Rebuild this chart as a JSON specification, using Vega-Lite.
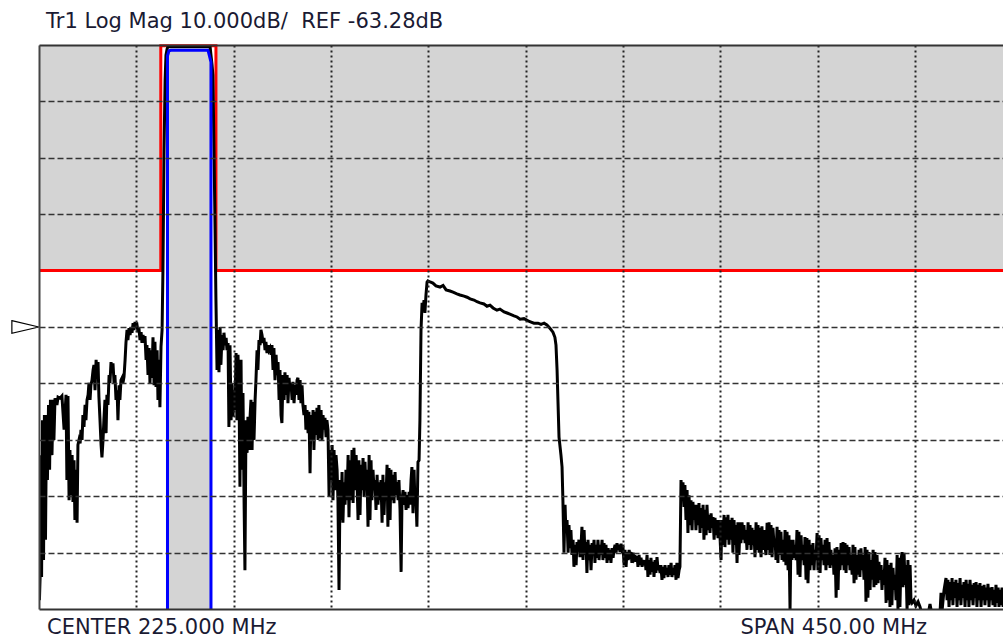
{
"$schema": "https://vega.github.io/schema/vega-lite/v6.json",
"width": 964, "height": 564,
"autosize": {"type": "none"},
"padding": {"left": 39, "top": 45, "right": 0, "bottom": 30},
"background": "white",
"config": {"view": {"stroke": null}},
"title": {"text": "Tr1 Log Mag 10.000dB/\u00a0 REF -63.28dB", "anchor": "start", "frame": "group", "font": "DejaVu Sans", "fontSize": 21, "fontWeight": "normal", "color": "#1a1a33", "dx": 7, "dy": 22, "offset": 13, "baseline": "alphabetic"},
"datasets": {
"limit": [{"MHz":0,"dB":-53.28},{"MHz":56.3,"dB":-53.28},{"MHz":56.3,"dB":-13.4},{"MHz":81.8,"dB":-13.4},{"MHz":81.8,"dB":-53.28},{"MHz":450,"dB":-53.28}],
"mask": [{"MHz":59.4,"dB":-114.3},{"MHz":59.4,"dB":-15.2},{"MHz":60.1,"dB":-14.3},{"MHz":61.0,"dB":-14.2},{"MHz":78.1,"dB":-14.2},{"MHz":78.8,"dB":-15.2},{"MHz":79.5,"dB":-16.3},{"MHz":79.5,"dB":-114.3}],
"trace": [
{"MHz":0.2,"dB":-111.7},{"MHz":0.5,"dB":-107.8},{"MHz":0.7,"dB":-86.0},{"MHz":1.2,"dB":-107.6},{"MHz":1.6,"dB":-79.8},{"MHz":2.1,"dB":-104.6},{"MHz":2.5,"dB":-78.9},{"MHz":3.0,"dB":-101.0},{"MHz":3.5,"dB":-78.9},{"MHz":3.9,"dB":-90.4},{"MHz":4.4,"dB":-77.1},{"MHz":4.9,"dB":-88.6},{"MHz":5.3,"dB":-76.2},{"MHz":6.0,"dB":-86.0},{"MHz":6.5,"dB":-76.2},{"MHz":6.9,"dB":-83.3},{"MHz":7.4,"dB":-75.9},{"MHz":8.3,"dB":-77.1},{"MHz":8.8,"dB":-75.7},{"MHz":9.7,"dB":-75.9},{"MHz":10.6,"dB":-75.5},{"MHz":11.6,"dB":-81.5},{"MHz":12.5,"dB":-75.3},{"MHz":12.9,"dB":-90.4},{"MHz":13.4,"dB":-75.5},{"MHz":13.9,"dB":-94.0},{"MHz":14.3,"dB":-85.1},{"MHz":14.8,"dB":-93.1},{"MHz":15.3,"dB":-86.0},{"MHz":15.7,"dB":-94.3},{"MHz":16.2,"dB":-86.9},{"MHz":16.6,"dB":-97.5},{"MHz":17.1,"dB":-88.6},{"MHz":17.6,"dB":-98.0},{"MHz":18.0,"dB":-84.2},{"MHz":18.5,"dB":-83.3},{"MHz":19.0,"dB":-83.9},{"MHz":19.4,"dB":-81.5},{"MHz":19.9,"dB":-83.3},{"MHz":20.3,"dB":-78.9},{"MHz":20.8,"dB":-81.0},{"MHz":21.3,"dB":-77.1},{"MHz":21.7,"dB":-79.8},{"MHz":22.2,"dB":-76.2},{"MHz":22.7,"dB":-75.3},{"MHz":23.1,"dB":-73.2},{"MHz":23.6,"dB":-76.2},{"MHz":24.0,"dB":-73.6},{"MHz":24.5,"dB":-72.7},{"MHz":25.0,"dB":-70.9},{"MHz":25.4,"dB":-70.0},{"MHz":25.9,"dB":-74.5},{"MHz":26.4,"dB":-69.1},{"MHz":26.8,"dB":-71.8},{"MHz":27.3,"dB":-69.5},{"MHz":27.7,"dB":-75.7},{"MHz":28.2,"dB":-79.8},{"MHz":28.7,"dB":-84.2},{"MHz":29.1,"dB":-86.4},{"MHz":29.6,"dB":-83.3},{"MHz":30.0,"dB":-79.8},{"MHz":30.5,"dB":-76.2},{"MHz":31.0,"dB":-82.1},{"MHz":31.4,"dB":-75.3},{"MHz":31.9,"dB":-77.1},{"MHz":32.4,"dB":-71.8},{"MHz":32.8,"dB":-73.2},{"MHz":33.3,"dB":-69.5},{"MHz":33.7,"dB":-70.9},{"MHz":34.2,"dB":-69.7},{"MHz":34.7,"dB":-73.2},{"MHz":35.1,"dB":-71.8},{"MHz":35.6,"dB":-76.2},{"MHz":36.1,"dB":-74.5},{"MHz":36.5,"dB":-79.8},{"MHz":37.0,"dB":-73.6},{"MHz":37.4,"dB":-76.2},{"MHz":37.9,"dB":-72.7},{"MHz":38.4,"dB":-72.3},{"MHz":38.8,"dB":-73.2},{"MHz":39.3,"dB":-72.1},{"MHz":39.8,"dB":-69.1},{"MHz":40.2,"dB":-66.1},{"MHz":40.7,"dB":-63.8},{"MHz":41.1,"dB":-65.6},{"MHz":41.6,"dB":-63.5},{"MHz":42.1,"dB":-64.7},{"MHz":42.5,"dB":-63.3},{"MHz":43.0,"dB":-64.3},{"MHz":43.5,"dB":-62.6},{"MHz":43.9,"dB":-63.8},{"MHz":44.4,"dB":-62.4},{"MHz":44.8,"dB":-63.1},{"MHz":45.3,"dB":-62.9},{"MHz":45.8,"dB":-64.2},{"MHz":46.2,"dB":-63.5},{"MHz":46.7,"dB":-65.6},{"MHz":47.2,"dB":-64.2},{"MHz":47.6,"dB":-66.1},{"MHz":48.1,"dB":-64.7},{"MHz":48.5,"dB":-66.1},{"MHz":49.0,"dB":-64.9},{"MHz":49.5,"dB":-69.1},{"MHz":49.9,"dB":-66.5},{"MHz":50.4,"dB":-71.8},{"MHz":50.9,"dB":-67.0},{"MHz":51.3,"dB":-73.2},{"MHz":51.8,"dB":-67.4},{"MHz":52.2,"dB":-72.3},{"MHz":52.7,"dB":-65.1},{"MHz":53.2,"dB":-73.6},{"MHz":53.6,"dB":-65.9},{"MHz":54.1,"dB":-73.9},{"MHz":54.6,"dB":-67.4},{"MHz":55.0,"dB":-76.2},{"MHz":55.5,"dB":-69.1},{"MHz":55.9,"dB":-77.5},{"MHz":56.4,"dB":-66.8},{"MHz":56.9,"dB":-63.8},{"MHz":57.3,"dB":-53.2},{"MHz":57.8,"dB":-31.9},{"MHz":58.3,"dB":-19.5},{"MHz":58.7,"dB":-15.1},{"MHz":59.2,"dB":-14.0},{"MHz":59.6,"dB":-13.6},{"MHz":79.1,"dB":-13.6},{"MHz":79.5,"dB":-15.1},{"MHz":80.0,"dB":-16.8},{"MHz":80.4,"dB":-18.6},{"MHz":80.9,"dB":-31.9},{"MHz":81.4,"dB":-46.1},{"MHz":81.8,"dB":-58.5},
{"MHz":82.3,"dB":-70.9},{"MHz":82.8,"dB":-63.8},{"MHz":83.2,"dB":-71.3},{"MHz":83.7,"dB":-63.3},{"MHz":84.1,"dB":-70.0},{"MHz":84.6,"dB":-64.7},{"MHz":85.1,"dB":-67.4},{"MHz":85.5,"dB":-64.3},{"MHz":86.0,"dB":-66.5},{"MHz":86.5,"dB":-65.2},{"MHz":86.9,"dB":-67.4},{"MHz":87.4,"dB":-66.1},{"MHz":87.8,"dB":-81.0},{"MHz":88.3,"dB":-66.5},{"MHz":88.8,"dB":-79.8},{"MHz":89.2,"dB":-73.2},{"MHz":89.7,"dB":-79.2},{"MHz":90.1,"dB":-74.5},{"MHz":90.6,"dB":-78.0},{"MHz":91.1,"dB":-67.9},{"MHz":91.5,"dB":-79.8},{"MHz":92.0,"dB":-68.2},{"MHz":92.5,"dB":-76.2},{"MHz":92.9,"dB":-91.6},{"MHz":93.4,"dB":-69.1},{"MHz":93.8,"dB":-88.6},{"MHz":94.3,"dB":-75.0},{"MHz":94.8,"dB":-94.0},{"MHz":95.2,"dB":-106.4},{"MHz":95.7,"dB":-79.8},{"MHz":96.2,"dB":-85.6},{"MHz":96.6,"dB":-79.2},{"MHz":97.1,"dB":-85.1},{"MHz":97.5,"dB":-79.8},{"MHz":98.0,"dB":-76.2},{"MHz":98.5,"dB":-85.1},{"MHz":98.9,"dB":-76.6},{"MHz":99.4,"dB":-83.3},{"MHz":99.9,"dB":-76.2},{"MHz":100.3,"dB":-72.7},{"MHz":100.8,"dB":-67.4},{"MHz":101.2,"dB":-70.9},{"MHz":101.7,"dB":-65.6},{"MHz":102.2,"dB":-66.5},{"MHz":102.6,"dB":-63.8},{"MHz":103.1,"dB":-64.7},{"MHz":103.6,"dB":-66.1},{"MHz":104.0,"dB":-65.2},{"MHz":104.5,"dB":-67.4},{"MHz":104.9,"dB":-65.9},{"MHz":105.4,"dB":-67.9},{"MHz":105.9,"dB":-66.5},{"MHz":106.3,"dB":-67.4},{"MHz":106.8,"dB":-67.0},
{"MHz":107.3,"dB":-68.2},{"MHz":107.7,"dB":-66.5},{"MHz":108.2,"dB":-70.9},{"MHz":108.6,"dB":-67.0},{"MHz":109.1,"dB":-72.7},{"MHz":109.6,"dB":-68.2},{"MHz":110.0,"dB":-71.8},{"MHz":110.5,"dB":-69.5},{"MHz":111.0,"dB":-76.2},{"MHz":111.4,"dB":-70.9},{"MHz":111.9,"dB":-78.9},{"MHz":112.3,"dB":-80.3},{"MHz":112.8,"dB":-71.8},{"MHz":113.3,"dB":-76.2},{"MHz":113.7,"dB":-71.3},{"MHz":114.2,"dB":-75.3},{"MHz":114.7,"dB":-71.8},{"MHz":115.1,"dB":-76.8},{"MHz":115.6,"dB":-72.3},{"MHz":116.0,"dB":-74.5},{"MHz":116.5,"dB":-73.2},{"MHz":117.0,"dB":-76.2},{"MHz":117.4,"dB":-73.0},{"MHz":117.9,"dB":-76.8},{"MHz":118.4,"dB":-73.6},{"MHz":118.8,"dB":-75.3},{"MHz":119.3,"dB":-72.7},{"MHz":119.7,"dB":-72.3},{"MHz":120.2,"dB":-76.2},{"MHz":120.7,"dB":-72.7},{"MHz":121.1,"dB":-76.8},{"MHz":121.6,"dB":-73.6},{"MHz":122.0,"dB":-77.1},{"MHz":122.5,"dB":-78.9},{"MHz":123.0,"dB":-77.1},{"MHz":123.4,"dB":-81.5},{"MHz":123.9,"dB":-78.0},{"MHz":124.4,"dB":-82.1},{"MHz":124.8,"dB":-78.3},{"MHz":125.3,"dB":-89.2},{"MHz":125.7,"dB":-78.9},{"MHz":126.2,"dB":-83.3},{"MHz":126.7,"dB":-78.0},{"MHz":127.1,"dB":-85.1},{"MHz":127.6,"dB":-78.3},{"MHz":128.1,"dB":-82.4},{"MHz":128.5,"dB":-77.6},{"MHz":129.0,"dB":-83.3},{"MHz":129.4,"dB":-77.1},{"MHz":129.9,"dB":-83.0},{"MHz":130.4,"dB":-78.0},{"MHz":130.8,"dB":-83.3},{"MHz":131.3,"dB":-78.9},{"MHz":131.8,"dB":-81.5},{"MHz":132.2,"dB":-79.4},{"MHz":132.7,"dB":-82.8},{"MHz":133.1,"dB":-79.8},{"MHz":133.6,"dB":-81.5},{"MHz":134.1,"dB":-93.4},{"MHz":134.5,"dB":-85.1},{"MHz":135.0,"dB":-90.4},{"MHz":135.5,"dB":-84.2},{"MHz":135.9,"dB":-94.0},{"MHz":136.4,"dB":-85.1},{"MHz":136.8,"dB":-92.2},{"MHz":137.3,"dB":-86.0},{"MHz":137.8,"dB":-88.6},{"MHz":138.2,"dB":-94.0},{"MHz":138.7,"dB":-109.9},{"MHz":139.2,"dB":-90.4},{"MHz":139.6,"dB":-97.5},{"MHz":140.1,"dB":-89.0},{"MHz":140.5,"dB":-98.0},{"MHz":141.0,"dB":-90.8},{"MHz":141.5,"dB":-94.8},{"MHz":141.9,"dB":-88.6},{"MHz":142.4,"dB":-94.0},{"MHz":142.9,"dB":-86.0},{"MHz":143.3,"dB":-97.0},{"MHz":143.8,"dB":-86.9},{"MHz":144.2,"dB":-94.0},{"MHz":144.7,"dB":-85.1},{"MHz":145.2,"dB":-94.5},{"MHz":145.6,"dB":-84.7},{"MHz":146.1,"dB":-92.2},{"MHz":146.6,"dB":-86.0},{"MHz":147.0,"dB":-90.4},{"MHz":147.5,"dB":-97.5},{"MHz":147.9,"dB":-86.9},{"MHz":148.4,"dB":-96.6},{"MHz":148.9,"dB":-87.7},{"MHz":149.3,"dB":-92.2},{"MHz":149.8,"dB":-86.5},{"MHz":150.3,"dB":-93.4},{"MHz":150.7,"dB":-87.2},{"MHz":151.2,"dB":-92.2},{"MHz":151.6,"dB":-88.6},{"MHz":152.1,"dB":-98.7},{"MHz":152.6,"dB":-86.0},{"MHz":153.0,"dB":-97.5},{"MHz":153.5,"dB":-86.9},{"MHz":153.9,"dB":-94.0},{"MHz":154.4,"dB":-88.6},{"MHz":154.9,"dB":-92.2},{"MHz":155.3,"dB":-90.4},{"MHz":155.8,"dB":-95.7},{"MHz":156.3,"dB":-89.5},{"MHz":156.7,"dB":-94.8},{"MHz":157.2,"dB":-90.8},{"MHz":157.6,"dB":-94.0},{"MHz":158.1,"dB":-90.4},{"MHz":158.6,"dB":-98.0},{"MHz":159.0,"dB":-89.5},{"MHz":159.5,"dB":-96.6},{"MHz":160.0,"dB":-90.8},{"MHz":160.4,"dB":-94.0},{"MHz":160.9,"dB":-87.7},{"MHz":161.3,"dB":-98.7},{"MHz":161.8,"dB":-88.3},{"MHz":162.3,"dB":-97.5},{"MHz":162.7,"dB":-88.6},{"MHz":163.2,"dB":-94.0},{"MHz":163.7,"dB":-89.5},{"MHz":164.1,"dB":-94.5},{"MHz":164.6,"dB":-89.0},{"MHz":165.0,"dB":-93.1},{"MHz":165.5,"dB":-90.8},{"MHz":166.0,"dB":-94.0},{"MHz":166.4,"dB":-90.4},{"MHz":166.9,"dB":-95.7},{"MHz":167.4,"dB":-106.7},{"MHz":167.8,"dB":-94.0},{"MHz":168.3,"dB":-92.2},{"MHz":168.7,"dB":-94.8},{"MHz":169.2,"dB":-92.5},{"MHz":169.7,"dB":-95.7},{"MHz":170.1,"dB":-93.1},{"MHz":170.6,"dB":-95.4},{"MHz":171.1,"dB":-92.5},{"MHz":171.5,"dB":-94.8},{"MHz":172.0,"dB":-90.4},{"MHz":172.4,"dB":-88.1},{"MHz":172.9,"dB":-96.3},{"MHz":173.4,"dB":-88.6},{"MHz":173.8,"dB":-94.8},{"MHz":174.3,"dB":-94.0},{"MHz":174.7,"dB":-98.7},{"MHz":175.2,"dB":-87.2},{"MHz":175.7,"dB":-86.9},{"MHz":176.1,"dB":-79.8},{"MHz":176.6,"dB":-63.8},{"MHz":177.1,"dB":-59.0},{"MHz":177.5,"dB":-60.3},{"MHz":178.0,"dB":-58.5},{"MHz":178.4,"dB":-60.8},{"MHz":178.9,"dB":-57.6},{"MHz":179.4,"dB":-55.3},{"MHz":179.8,"dB":-55.1},
{"MHz":180.8,"dB":-55.3},{"MHz":182.1,"dB":-55.5},{"MHz":183.5,"dB":-56.0},{"MHz":185.4,"dB":-56.2},{"MHz":186.8,"dB":-55.9},{"MHz":188.2,"dB":-56.7},{"MHz":190.0,"dB":-56.9},{"MHz":191.4,"dB":-57.1},{"MHz":193.2,"dB":-57.4},{"MHz":194.6,"dB":-57.6},{"MHz":196.5,"dB":-57.8},{"MHz":197.9,"dB":-58.0},{"MHz":199.3,"dB":-58.3},{"MHz":201.1,"dB":-58.5},{"MHz":202.5,"dB":-58.8},{"MHz":203.9,"dB":-59.0},{"MHz":205.7,"dB":-59.2},{"MHz":207.1,"dB":-59.6},{"MHz":208.5,"dB":-59.4},{"MHz":209.9,"dB":-59.9},{"MHz":211.7,"dB":-60.3},{"MHz":213.1,"dB":-60.1},{"MHz":215.0,"dB":-60.6},{"MHz":216.4,"dB":-60.8},{"MHz":217.7,"dB":-61.0},{"MHz":219.6,"dB":-61.3},{"MHz":221.0,"dB":-61.5},{"MHz":222.4,"dB":-61.9},{"MHz":224.2,"dB":-61.8},{"MHz":226.1,"dB":-62.2},{"MHz":227.5,"dB":-62.4},{"MHz":228.8,"dB":-62.6},{"MHz":230.7,"dB":-62.6},{"MHz":232.1,"dB":-62.8},{"MHz":233.5,"dB":-62.6},{"MHz":234.8,"dB":-62.9},{"MHz":236.2,"dB":-63.5},{"MHz":237.6,"dB":-64.2},{"MHz":238.5,"dB":-65.1},{"MHz":239.0,"dB":-66.5},{"MHz":239.5,"dB":-70.9},{"MHz":239.9,"dB":-76.2},{"MHz":240.4,"dB":-82.8},{"MHz":241.3,"dB":-86.0},{"MHz":241.8,"dB":-88.1},{"MHz":242.2,"dB":-94.0},
{"MHz":242.7,"dB":-103.3},{"MHz":243.2,"dB":-94.8},{"MHz":243.6,"dB":-99.8},{"MHz":244.1,"dB":-97.5},{"MHz":244.6,"dB":-103.3},{"MHz":245.0,"dB":-98.4},{"MHz":245.5,"dB":-102.5},{"MHz":245.9,"dB":-99.3},{"MHz":246.4,"dB":-103.7},{"MHz":246.9,"dB":-101.0},{"MHz":247.3,"dB":-105.8},{"MHz":247.8,"dB":-101.9},{"MHz":248.3,"dB":-105.5},{"MHz":248.7,"dB":-101.4},{"MHz":249.2,"dB":-102.8},{"MHz":249.6,"dB":-101.0},{"MHz":250.1,"dB":-104.1},{"MHz":250.6,"dB":-101.9},{"MHz":251.0,"dB":-98.7},{"MHz":251.5,"dB":-104.6},{"MHz":252.0,"dB":-99.3},{"MHz":252.4,"dB":-103.7},{"MHz":252.9,"dB":-101.4},{"MHz":253.3,"dB":-106.9},{"MHz":253.8,"dB":-101.0},{"MHz":254.3,"dB":-104.6},{"MHz":254.7,"dB":-101.9},{"MHz":255.2,"dB":-106.4},{"MHz":255.7,"dB":-101.6},{"MHz":256.1,"dB":-103.7},{"MHz":256.6,"dB":-101.0},{"MHz":257.0,"dB":-105.1},{"MHz":257.5,"dB":-101.9},{"MHz":258.0,"dB":-104.2},{"MHz":258.4,"dB":-101.0},{"MHz":258.9,"dB":-104.6},{"MHz":259.4,"dB":-101.9},{"MHz":259.8,"dB":-103.7},{"MHz":260.3,"dB":-101.0},{"MHz":260.7,"dB":-104.6},{"MHz":261.2,"dB":-101.6},{"MHz":261.7,"dB":-104.2},{"MHz":262.1,"dB":-101.9},{"MHz":262.6,"dB":-105.1},{"MHz":263.1,"dB":-102.5},{"MHz":263.5,"dB":-104.6},{"MHz":264.0,"dB":-102.8},{"MHz":264.4,"dB":-105.1},{"MHz":264.9,"dB":-102.5},{"MHz":265.4,"dB":-104.2},{"MHz":265.8,"dB":-102.8},{"MHz":266.3,"dB":-101.9},{"MHz":266.8,"dB":-103.3},{"MHz":267.2,"dB":-101.6},{"MHz":267.7,"dB":-102.8},{"MHz":268.1,"dB":-101.9},{"MHz":268.6,"dB":-103.2},{"MHz":269.1,"dB":-101.7},{"MHz":269.5,"dB":-102.8},{"MHz":270.0,"dB":-102.5},{"MHz":270.5,"dB":-105.5},{"MHz":270.9,"dB":-102.8},{"MHz":271.4,"dB":-105.8},{"MHz":271.8,"dB":-103.2},{"MHz":272.3,"dB":-104.6},{"MHz":272.8,"dB":-102.8},{"MHz":273.2,"dB":-103.7},{"MHz":273.7,"dB":-103.2},{"MHz":274.1,"dB":-105.1},{"MHz":274.6,"dB":-103.3},{"MHz":275.1,"dB":-104.2},{"MHz":275.5,"dB":-103.7},{"MHz":276.0,"dB":-104.9},{"MHz":276.5,"dB":-103.9},{"MHz":276.9,"dB":-105.8},{"MHz":277.4,"dB":-103.7},{"MHz":277.8,"dB":-105.5},{"MHz":278.3,"dB":-104.2},{"MHz":278.8,"dB":-105.8},{"MHz":279.2,"dB":-104.6},{"MHz":279.7,"dB":-105.5},{"MHz":280.2,"dB":-104.6},{"MHz":280.6,"dB":-106.4},{"MHz":281.1,"dB":-103.7},{"MHz":281.5,"dB":-107.6},{"MHz":282.0,"dB":-104.6},{"MHz":282.5,"dB":-107.2},{"MHz":282.9,"dB":-104.2},{"MHz":283.4,"dB":-106.7},{"MHz":283.9,"dB":-104.9},{"MHz":284.3,"dB":-107.6},{"MHz":284.8,"dB":-104.6},{"MHz":285.2,"dB":-106.9},{"MHz":285.7,"dB":-104.1},{"MHz":286.2,"dB":-106.4},{"MHz":286.6,"dB":-105.5},{"MHz":287.1,"dB":-106.9},{"MHz":287.5,"dB":-105.5},{"MHz":288.0,"dB":-108.1},{"MHz":288.5,"dB":-105.8},{"MHz":288.9,"dB":-107.8},{"MHz":289.4,"dB":-105.5},{"MHz":289.9,"dB":-107.2},{"MHz":290.3,"dB":-106.0},{"MHz":290.8,"dB":-107.6},{"MHz":291.2,"dB":-105.5},{"MHz":291.7,"dB":-107.2},{"MHz":292.2,"dB":-105.1},{"MHz":292.6,"dB":-107.6},{"MHz":293.1,"dB":-106.0},{"MHz":293.6,"dB":-107.2},{"MHz":294.0,"dB":-105.5},{"MHz":294.5,"dB":-108.1},{"MHz":294.9,"dB":-105.1},{"MHz":295.4,"dB":-107.8},{"MHz":295.9,"dB":-106.4},{"MHz":296.3,"dB":-105.8},{"MHz":296.8,"dB":-90.4},{"MHz":297.3,"dB":-94.0},{"MHz":297.7,"dB":-90.8},{"MHz":298.2,"dB":-95.2},{"MHz":298.6,"dB":-91.3},{"MHz":299.1,"dB":-97.5},{"MHz":299.6,"dB":-92.2},{"MHz":300.0,"dB":-99.8},{"MHz":300.5,"dB":-93.1},{"MHz":301.0,"dB":-98.4},{"MHz":301.4,"dB":-94.0},{"MHz":301.9,"dB":-99.3},{"MHz":302.3,"dB":-94.3},{"MHz":302.8,"dB":-97.5},{"MHz":303.3,"dB":-94.8},{"MHz":303.7,"dB":-99.3},{"MHz":304.2,"dB":-94.8},{"MHz":304.7,"dB":-98.4},{"MHz":305.1,"dB":-94.5},{"MHz":305.6,"dB":-99.8},{"MHz":306.0,"dB":-95.4},{"MHz":306.5,"dB":-98.9},{"MHz":307.0,"dB":-94.8},{"MHz":307.4,"dB":-101.0},{"MHz":307.9,"dB":-95.7},{"MHz":308.4,"dB":-100.2},{"MHz":308.8,"dB":-94.8},{"MHz":309.3,"dB":-99.3},{"MHz":309.7,"dB":-96.6},{"MHz":310.2,"dB":-99.8},{"MHz":310.7,"dB":-96.3},{"MHz":311.1,"dB":-98.9},{"MHz":311.6,"dB":-97.0},{"MHz":312.1,"dB":-101.0},{"MHz":312.5,"dB":-97.1},{"MHz":313.0,"dB":-100.2},{"MHz":313.4,"dB":-97.5},{"MHz":313.9,"dB":-100.7},{"MHz":314.4,"dB":-97.5},{"MHz":314.8,"dB":-100.2},{"MHz":315.3,"dB":-104.6},{"MHz":315.7,"dB":-97.5},{"MHz":316.2,"dB":-101.9},{"MHz":316.7,"dB":-96.6},{"MHz":317.1,"dB":-102.3},{"MHz":317.6,"dB":-97.0},{"MHz":318.1,"dB":-101.0},{"MHz":318.5,"dB":-96.6},{"MHz":319.0,"dB":-101.9},{"MHz":319.4,"dB":-97.5},{"MHz":319.9,"dB":-101.0},{"MHz":320.4,"dB":-97.1},{"MHz":320.8,"dB":-103.3},{"MHz":321.3,"dB":-97.5},{"MHz":321.8,"dB":-101.9},{"MHz":322.2,"dB":-98.4},{"MHz":322.7,"dB":-105.1},{"MHz":323.1,"dB":-97.9},{"MHz":323.6,"dB":-103.7},{"MHz":324.1,"dB":-97.9},{"MHz":324.5,"dB":-101.6},{"MHz":325.0,"dB":-97.9},{"MHz":325.5,"dB":-101.0},{"MHz":325.9,"dB":-98.4},{"MHz":326.4,"dB":-101.6},{"MHz":326.8,"dB":-99.3},{"MHz":327.3,"dB":-102.8},{"MHz":327.8,"dB":-97.9},{"MHz":328.2,"dB":-101.9},{"MHz":328.7,"dB":-98.4},{"MHz":329.2,"dB":-102.8},{"MHz":329.6,"dB":-98.9},{"MHz":330.1,"dB":-101.9},{"MHz":330.5,"dB":-99.3},{"MHz":331.0,"dB":-104.1},{"MHz":331.5,"dB":-97.9},{"MHz":331.9,"dB":-102.8},{"MHz":332.4,"dB":-98.4},{"MHz":332.9,"dB":-103.3},{"MHz":333.3,"dB":-98.9},
{"MHz":333.8,"dB":-104.1},{"MHz":334.2,"dB":-98.6},{"MHz":334.7,"dB":-102.8},{"MHz":335.2,"dB":-99.3},{"MHz":335.6,"dB":-101.9},{"MHz":336.1,"dB":-103.7},{"MHz":336.6,"dB":-98.0},{"MHz":337.0,"dB":-102.8},{"MHz":337.5,"dB":-97.9},{"MHz":337.9,"dB":-103.7},{"MHz":338.4,"dB":-98.4},{"MHz":338.9,"dB":-104.1},{"MHz":339.3,"dB":-98.9},{"MHz":339.8,"dB":-101.9},{"MHz":340.3,"dB":-101.0},{"MHz":340.7,"dB":-104.6},{"MHz":341.2,"dB":-98.7},{"MHz":341.6,"dB":-105.1},{"MHz":342.1,"dB":-99.3},{"MHz":342.6,"dB":-103.7},{"MHz":343.0,"dB":-99.6},{"MHz":343.5,"dB":-104.6},{"MHz":344.0,"dB":-101.0},{"MHz":344.4,"dB":-104.9},{"MHz":344.9,"dB":-99.3},{"MHz":345.3,"dB":-105.5},{"MHz":345.8,"dB":-99.6},{"MHz":346.3,"dB":-106.4},{"MHz":346.7,"dB":-100.2},{"MHz":347.2,"dB":-113.5},{"MHz":347.6,"dB":-101.0},{"MHz":348.1,"dB":-104.6},{"MHz":348.6,"dB":-101.0},{"MHz":349.0,"dB":-104.2},{"MHz":349.5,"dB":-101.9},{"MHz":350.0,"dB":-104.6},{"MHz":350.4,"dB":-99.3},{"MHz":350.9,"dB":-107.2},{"MHz":351.3,"dB":-99.6},{"MHz":351.8,"dB":-107.6},{"MHz":352.3,"dB":-100.2},{"MHz":352.7,"dB":-104.6},{"MHz":353.2,"dB":-101.9},{"MHz":353.7,"dB":-105.5},{"MHz":354.1,"dB":-100.5},{"MHz":354.6,"dB":-108.1},{"MHz":355.0,"dB":-100.7},{"MHz":355.5,"dB":-108.7},{"MHz":356.0,"dB":-101.0},{"MHz":356.4,"dB":-106.4},{"MHz":356.9,"dB":-101.9},{"MHz":357.4,"dB":-105.5},{"MHz":357.8,"dB":-101.6},{"MHz":358.3,"dB":-106.4},{"MHz":358.7,"dB":-102.8},{"MHz":359.2,"dB":-104.6},{"MHz":359.7,"dB":-99.8},{"MHz":360.1,"dB":-106.4},{"MHz":360.6,"dB":-100.2},{"MHz":361.1,"dB":-106.9},{"MHz":361.5,"dB":-100.7},{"MHz":362.0,"dB":-104.6},{"MHz":362.4,"dB":-101.9},{"MHz":362.9,"dB":-105.5},{"MHz":363.4,"dB":-101.0},{"MHz":363.8,"dB":-106.4},{"MHz":364.3,"dB":-100.7},{"MHz":364.8,"dB":-105.5},{"MHz":365.2,"dB":-101.4},{"MHz":365.7,"dB":-106.0},{"MHz":366.1,"dB":-102.8},{"MHz":366.6,"dB":-105.5},{"MHz":367.1,"dB":-103.7},{"MHz":367.5,"dB":-107.2},{"MHz":368.0,"dB":-102.5},{"MHz":368.5,"dB":-111.3},{"MHz":368.9,"dB":-102.3},{"MHz":369.4,"dB":-109.9},{"MHz":369.8,"dB":-102.8},{"MHz":370.3,"dB":-106.4},{"MHz":370.8,"dB":-101.6},{"MHz":371.2,"dB":-105.5},{"MHz":371.7,"dB":-101.4},{"MHz":372.2,"dB":-106.4},{"MHz":372.6,"dB":-101.6},{"MHz":373.1,"dB":-106.9},{"MHz":373.5,"dB":-101.9},{"MHz":374.0,"dB":-105.5},{"MHz":374.5,"dB":-102.3},{"MHz":374.9,"dB":-106.4},{"MHz":375.4,"dB":-103.7},{"MHz":375.9,"dB":-107.2},{"MHz":376.3,"dB":-101.9},{"MHz":376.8,"dB":-108.7},{"MHz":377.2,"dB":-102.3},{"MHz":377.7,"dB":-108.1},{"MHz":378.2,"dB":-103.7},{"MHz":378.6,"dB":-107.2},{"MHz":379.1,"dB":-102.8},{"MHz":379.5,"dB":-107.6},{"MHz":380.0,"dB":-102.5},{"MHz":380.5,"dB":-106.4},{"MHz":380.9,"dB":-103.7},{"MHz":381.4,"dB":-108.1},{"MHz":381.9,"dB":-102.3},{"MHz":382.3,"dB":-112.0},{"MHz":382.8,"dB":-102.8},{"MHz":383.2,"dB":-111.3},{"MHz":383.7,"dB":-103.2},{"MHz":384.2,"dB":-109.9},{"MHz":384.6,"dB":-104.6},{"MHz":385.1,"dB":-108.1},{"MHz":385.6,"dB":-102.8},{"MHz":386.0,"dB":-109.4},{"MHz":386.5,"dB":-103.2},{"MHz":386.9,"dB":-109.0},{"MHz":387.4,"dB":-103.7},{"MHz":387.9,"dB":-108.7},{"MHz":388.3,"dB":-104.9},{"MHz":388.8,"dB":-108.1},{"MHz":389.3,"dB":-105.5},{"MHz":389.7,"dB":-109.9},{"MHz":390.2,"dB":-106.4},{"MHz":390.6,"dB":-109.0},{"MHz":391.1,"dB":-104.2},{"MHz":391.6,"dB":-112.2},{"MHz":392.0,"dB":-104.6},{"MHz":392.5,"dB":-111.7},{"MHz":393.0,"dB":-105.5},{"MHz":393.4,"dB":-112.9},{"MHz":393.9,"dB":-105.1},{"MHz":394.3,"dB":-112.6},{"MHz":394.8,"dB":-106.0},{"MHz":395.3,"dB":-109.9},{"MHz":395.7,"dB":-107.2},{"MHz":396.2,"dB":-111.7},{"MHz":396.7,"dB":-103.7},{"MHz":397.1,"dB":-113.5},{"MHz":397.6,"dB":-104.2},{"MHz":398.0,"dB":-112.9},{"MHz":398.5,"dB":-104.6},{"MHz":399.0,"dB":-103.2},{"MHz":399.4,"dB":-109.4},{"MHz":399.9,"dB":-103.3},{"MHz":400.4,"dB":-109.0},{"MHz":400.8,"dB":-105.5},{"MHz":401.3,"dB":-113.5},{"MHz":401.7,"dB":-104.6},{"MHz":402.2,"dB":-112.6},{"MHz":402.7,"dB":-105.5},{"MHz":403.1,"dB":-111.7},{"MHz":403.6,"dB":-112.2},{"MHz":404.5,"dB":-111.7},{"MHz":405.4,"dB":-112.7},{"MHz":406.4,"dB":-112.0},{"MHz":407.3,"dB":-112.9},{"MHz":408.2,"dB":-114.3},{"MHz":411.0,"dB":-114.3},{"MHz":411.9,"dB":-112.4},{"MHz":412.8,"dB":-114.3},{"MHz":416.5,"dB":-114.3},{"MHz":417.0,"dB":-110.4},{"MHz":417.5,"dB":-113.5},{"MHz":418.4,"dB":-109.9},{"MHz":419.3,"dB":-107.8},{"MHz":419.8,"dB":-111.7},{"MHz":420.2,"dB":-108.1},{"MHz":420.7,"dB":-112.9},{"MHz":421.2,"dB":-108.5},{"MHz":421.6,"dB":-111.7},{"MHz":422.1,"dB":-107.8},{"MHz":422.5,"dB":-112.6},{"MHz":423.0,"dB":-108.5},{"MHz":423.5,"dB":-111.3},{"MHz":423.9,"dB":-108.1},{"MHz":424.4,"dB":-112.9},{"MHz":424.9,"dB":-108.7},{"MHz":425.3,"dB":-111.7},{"MHz":425.8,"dB":-107.8},{"MHz":426.2,"dB":-112.6},{"MHz":426.7,"dB":-109.0},{"MHz":427.2,"dB":-111.3},{"MHz":427.6,"dB":-108.5},{"MHz":428.1,"dB":-112.9},{"MHz":428.6,"dB":-108.1},{"MHz":429.0,"dB":-111.7},{"MHz":429.5,"dB":-108.8},{"MHz":429.9,"dB":-112.9},{"MHz":430.4,"dB":-108.1},{"MHz":430.9,"dB":-111.7},{"MHz":431.3,"dB":-109.0},{"MHz":431.8,"dB":-112.6},{"MHz":432.3,"dB":-108.7},{"MHz":432.7,"dB":-111.3},{"MHz":433.2,"dB":-108.5},{"MHz":433.6,"dB":-112.9},{"MHz":434.1,"dB":-109.0},{"MHz":434.6,"dB":-111.7},{"MHz":435.0,"dB":-108.7},{"MHz":435.5,"dB":-112.9},{"MHz":436.0,"dB":-109.2},{"MHz":436.4,"dB":-111.7},{"MHz":436.9,"dB":-109.0},{"MHz":437.3,"dB":-112.6},{"MHz":437.8,"dB":-109.5},{"MHz":438.3,"dB":-111.7},{"MHz":438.7,"dB":-108.8},{"MHz":439.2,"dB":-112.9},{"MHz":439.7,"dB":-109.5},{"MHz":440.1,"dB":-111.7},{"MHz":440.6,"dB":-109.4},{"MHz":441.0,"dB":-112.6},{"MHz":441.5,"dB":-109.9},{"MHz":442.0,"dB":-112.9},{"MHz":442.4,"dB":-109.0},{"MHz":442.9,"dB":-112.2},{"MHz":443.4,"dB":-109.5},{"MHz":443.8,"dB":-112.9},{"MHz":444.3,"dB":-109.9},{"MHz":444.7,"dB":-112.6},{"MHz":445.2,"dB":-109.5},{"MHz":445.7,"dB":-112.9},{"MHz":446.6,"dB":-109.9}
]
},
"resolve": {"axis": {"x": "independent", "y": "independent"}},
"layer": [
{"data": {"name": "limit"}, "mark": {"type": "area", "color": "#d4d4d4", "opacity": 1, "clip": true},
 "encoding": {
  "x": {"field": "MHz", "type": "quantitative", "scale": {"domain": [0, 445.65], "nice": false, "zero": false},
        "axis": {"orient": "bottom", "values": [45,90,135,180,225,270,315,360,405], "grid": true, "gridColor": "#222222", "gridDash": [2,3], "gridWidth": 2, "labels": false, "ticks": false, "domain": true, "domainColor": "#333333", "domainWidth": 2, "title": null, "zindex": 1}},
  "y": {"field": "dB", "type": "quantitative", "scale": {"domain": [-113.28, -13.28], "nice": false, "zero": false},
        "axis": {"orient": "left", "values": [-103.28,-93.28,-83.28,-73.28,-63.28,-43.28,-33.28,-23.28], "grid": true, "gridColor": "#333333", "gridDash": [6,3], "gridWidth": 1.3, "labels": false, "ticks": false, "domain": true, "domainColor": "#444444", "domainWidth": 2, "title": null, "zindex": 1}},
  "y2": {"datum": -13.28},
  "order": {"value": null}
 }},
{"data": {"name": "mask"}, "mark": {"type": "area", "color": "#d4d4d4", "opacity": 1, "clip": true},
 "encoding": {
  "x": {"field": "MHz", "type": "quantitative", "axis": null},
  "y": {"field": "dB", "type": "quantitative", "axis": null},
  "y2": {"datum": -113.28},
  "order": {"value": null}
 }},
{"data": {"name": "limit"}, "mark": {"type": "line", "color": "#ff0000", "strokeWidth": 3, "clip": false},
 "encoding": {
  "x": {"field": "MHz", "type": "quantitative", "axis": {"orient": "top", "grid": false, "labels": false, "ticks": false, "domain": true, "domainColor": "#333333", "domainWidth": 2, "title": null, "zindex": 1}},
  "y": {"field": "dB", "type": "quantitative", "axis": null},
  "order": {"value": null}
 }},
{"data": {"name": "trace"}, "mark": {"type": "line", "color": "#000000", "strokeWidth": 3, "clip": true, "strokeJoin": "miter"},
 "encoding": {
  "x": {"field": "MHz", "type": "quantitative", "axis": null},
  "y": {"field": "dB", "type": "quantitative", "axis": null},
  "order": {"value": null}
 }},
{"data": {"name": "mask"}, "mark": {"type": "line", "color": "#0000ff", "strokeWidth": 3, "clip": true},
 "encoding": {
  "x": {"field": "MHz", "type": "quantitative", "axis": null},
  "y": {"field": "dB", "type": "quantitative", "axis": null},
  "order": {"value": null}
 }},
{"data": {"values": [{"marker": "REF"}]}, "mark": {"type": "point", "shape": "M -1 -0.467 L 1 0 L -1 0.467 Z", "size": 729, "filled": true, "fill": "#ffffff", "stroke": "#000000", "strokeWidth": 1.2, "opacity": 1},
 "encoding": {
  "x": {"datum": -6.3, "type": "quantitative", "axis": null},
  "y": {"datum": -63.28, "type": "quantitative", "axis": null}
 }},
{"data": {"values": [{"label": "CENTER 225.000 MHz"}]}, "mark": {"type": "text", "align": "left", "baseline": "alphabetic", "font": "DejaVu Sans", "fontSize": 21, "color": "#1a1a33"},
 "encoding": {
  "text": {"field": "label"},
  "x": {"datum": 3.7, "type": "quantitative", "axis": null},
  "y": {"datum": -117.7, "type": "quantitative", "axis": null}
 }},
{"data": {"values": [{"label": "SPAN 450.00 MHz"}]}, "mark": {"type": "text", "align": "right", "baseline": "alphabetic", "font": "DejaVu Sans", "fontSize": 21, "color": "#1a1a33"},
 "encoding": {
  "text": {"field": "label"},
  "x": {"datum": 410.5, "type": "quantitative", "axis": null},
  "y": {"datum": -117.7, "type": "quantitative", "axis": null}
 }}
]
}
